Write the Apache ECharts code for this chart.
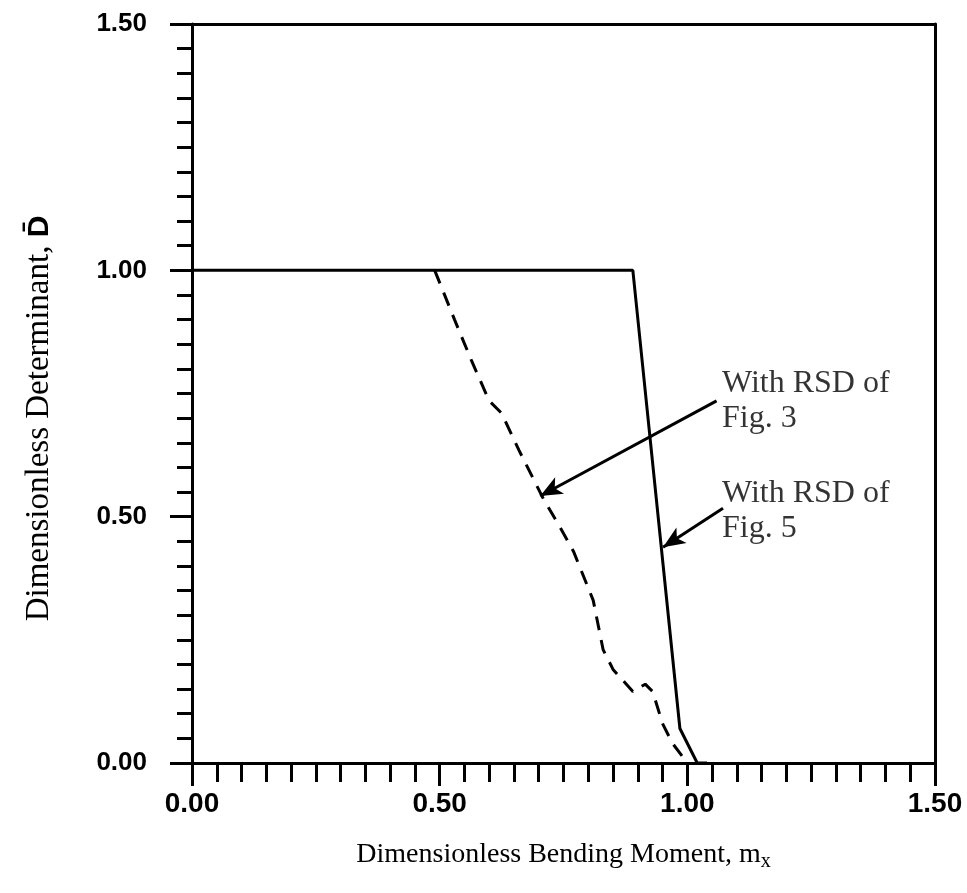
<!DOCTYPE html>
<html>
<head>
<meta charset="utf-8">
<script src="https://cdn.jsdelivr.net/npm/echarts@6/dist/echarts.min.js"></script>
<style>
  html, body { margin: 0; padding: 0; background: #fff; }
  #chart { width: 967px; height: 893px; }
</style>
</head>
<body>
<div id="chart"></div>
<script>
// values
const solidRSD5 = [[0, 1.0], [0.89, 1.0], [0.985, 0.07], [1.02, 0.0], [1.04, 0.0]];
const dashedRSD3 = [
  [0.49, 1.0], [0.53, 0.9], [0.565, 0.815], [0.6, 0.735], [0.625, 0.71], [0.66, 0.635],
  [0.71, 0.535], [0.745, 0.475], [0.77, 0.43], [0.79, 0.38], [0.81, 0.33], [0.83, 0.23],
  [0.85, 0.19], [0.89, 0.145], [0.915, 0.16], [0.93, 0.145], [0.95, 0.08], [0.97, 0.04], [1.0, 0.0]
];
const arrowFig3 = [[1.059, 0.735], [0.703, 0.542]];
const arrowFig5 = [[1.072, 0.517], [0.951, 0.438]];
const noteLabels = [
  { text: "With RSD of\nFig. 3", at: [1.07, 0.735] },
  { text: "With RSD of\nFig. 5", at: [1.07, 0.512] }
];
const xTicks = [0, 0.5, 1.0, 1.5];
const yTicks = [0, 0.5, 1.0, 1.5];

const serif = "'Liberation Serif', 'DejaVu Serif', serif";
const sans = "'Liberation Sans', Arial, sans-serif";
const ink = "#000";

const chart = echarts.init(document.getElementById("chart"), null, { renderer: "canvas" });

function arrowLine(pts) {
  return {
    type: "line",
    data: [],
    silent: true,
    markLine: {
      silent: true,
      symbol: ["none", "arrow"],
      symbolSize: [14, 22],
      label: { show: false },
      lineStyle: { color: ink, width: 3, type: "solid" },
      data: [[{ coord: pts[0] }, { coord: pts[1] }]]
    }
  };
}

const axisBase = {
  min: 0,
  max: 1.5,
  interval: 0.5,
  axisLine: { show: true, onZero: false, lineStyle: { color: ink, width: 3 } },
  splitLine: { show: false }
};

chart.setOption({
  backgroundColor: "#fff",
  animation: false,
  grid: { left: 192, right: 32, top: 24, bottom: 130 },
  xAxis: [
    Object.assign({}, axisBase, {
      type: "value",
      position: "bottom",
      axisTick: { show: true, inside: false, length: 23, lineStyle: { color: ink, width: 3 } },
      minorTick: { show: true, splitNumber: 10, length: 19, lineStyle: { color: ink, width: 3 } },
      axisLabel: {
        margin: 27,
        color: ink,
        fontFamily: sans,
        fontWeight: "bold",
        fontSize: 28,
        formatter: (v) => (xTicks.includes(v) ? v.toFixed(2) : "")
      },
      name: "{a|Dimensionless Bending Moment, m}{sub|x}",
      nameLocation: "middle",
      nameGap: 75,
      nameTextStyle: {
        rich: {
          a: { fontFamily: serif, fontSize: 28, color: ink },
          sub: { fontFamily: serif, fontSize: 20, color: ink, padding: [14, 0, 0, 0] }
        }
      }
    }),
    Object.assign({}, axisBase, {
      type: "value",
      position: "top",
      axisTick: { show: false },
      axisLabel: { show: false }
    })
  ],
  yAxis: [
    Object.assign({}, axisBase, {
      type: "value",
      position: "left",
      axisTick: { show: true, inside: false, length: 22, lineStyle: { color: ink, width: 3 } },
      minorTick: { show: true, splitNumber: 10, length: 15, lineStyle: { color: ink, width: 3 } },
      axisLabel: {
        margin: 45,
        color: ink,
        fontFamily: sans,
        fontWeight: "bold",
        fontSize: 26,
        formatter: (v) => (yTicks.includes(v) ? v.toFixed(2) : "")
      },
      name: "{a|Dimensionless Determinant, }{b|D̄}",
      nameLocation: "middle",
      nameRotate: 90,
      nameGap: 136,
      nameTextStyle: {
        padding: [0, 50, 0, 0],
        rich: {
          a: { fontFamily: serif, fontSize: 33, color: ink },
          b: { fontFamily: sans, fontWeight: "bold", fontSize: 30, color: ink }
        }
      }
    }),
    Object.assign({}, axisBase, {
      type: "value",
      position: "right",
      axisTick: { show: false },
      axisLabel: { show: false }
    })
  ],
  series: [
    {
      name: "With RSD of Fig. 5",
      type: "line",
      data: solidRSD5,
      symbol: "none",
      lineStyle: { color: ink, width: 3, type: "solid" }
    },
    {
      name: "With RSD of Fig. 3",
      type: "line",
      data: dashedRSD3,
      symbol: "none",
      lineStyle: { color: ink, width: 3, type: [14, 10] }
    },
    arrowLine(arrowFig3),
    arrowLine(arrowFig5),
    {
      type: "scatter",
      silent: true,
      symbolSize: 0,
      data: noteLabels.map((n) => ({ value: n.at, label: { formatter: n.text } })),
      label: {
        show: true,
        position: "right",
        distance: 0,
        color: ink,
        fontFamily: serif,
        fontSize: 32,
        lineHeight: 35,
        align: "left",
        verticalAlign: "middle"
      }
    }
  ]
});
</script>
</body>
</html>
